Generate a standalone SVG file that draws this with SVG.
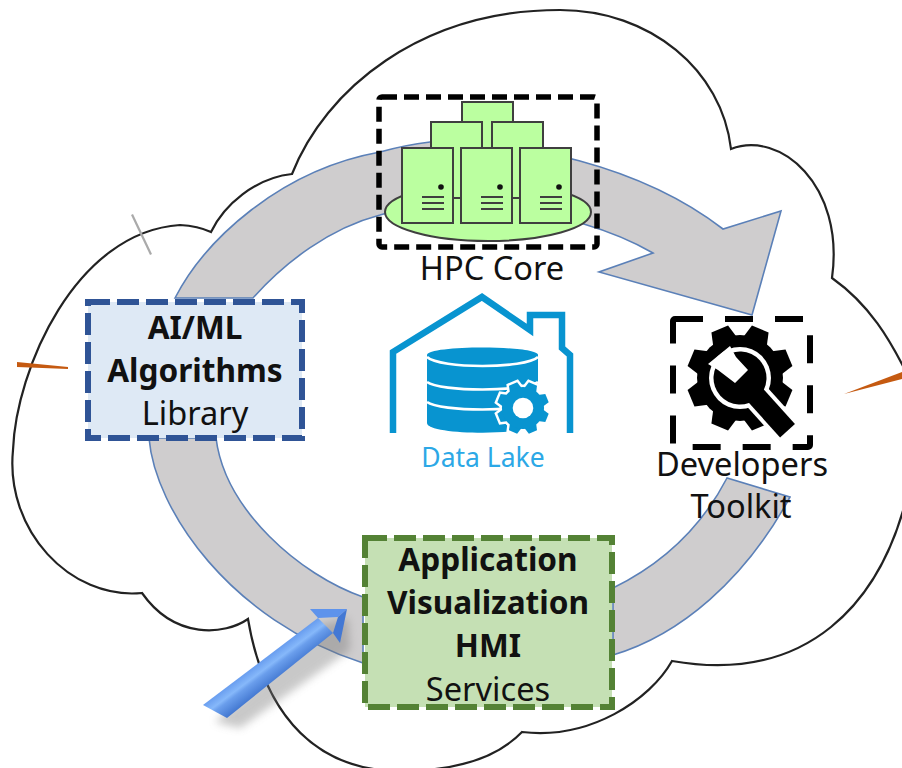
<svg xmlns="http://www.w3.org/2000/svg" width="902" height="768" viewBox="0 0 902 768">
<style>
text{font-family:"Noto Sans","Open Sans","DejaVu Sans",sans-serif;fill:#111;text-anchor:middle}
.b{font-weight:700;font-size:31.6px}
.r{font-size:32.6px}
.ring{fill:#CFCDCE;stroke:#5B80B8;stroke-width:1.6;stroke-linejoin:miter}
.srv{fill:#BBFFA0;stroke:#3f3f3f;stroke-width:2}
.ln{stroke:#3f3f3f;stroke-width:2.2}
.cloud{fill:none;stroke:#222;stroke-width:2.2}
</style>
<defs>
<g id="teeth">
<polygon points="-13,-38 -9,-53 9,-53 13,-38" transform="rotate(22.5)"/>
<polygon points="-13,-38 -9,-53 9,-53 13,-38" transform="rotate(67.5)"/>
<polygon points="-13,-38 -9,-53 9,-53 13,-38" transform="rotate(112.5)"/>
<polygon points="-13,-38 -9,-53 9,-53 13,-38" transform="rotate(157.5)"/>
<polygon points="-13,-38 -9,-53 9,-53 13,-38" transform="rotate(202.5)"/>
<polygon points="-13,-38 -9,-53 9,-53 13,-38" transform="rotate(247.5)"/>
<polygon points="-13,-38 -9,-53 9,-53 13,-38" transform="rotate(292.5)"/>
<polygon points="-13,-38 -9,-53 9,-53 13,-38" transform="rotate(337.5)"/>
<circle r="43"/>
</g>
<g id="server">
<rect class="srv" width="51" height="75"/>
<circle cx="39" cy="39" r="2.8" fill="#111"/>
<path class="ln" d="M20,49H42M20,55H42M20,61H42"/>
</g>
<linearGradient id="shaft" gradientUnits="userSpaceOnUse" x1="261" y1="656" x2="279" y2="680">
<stop offset="0" stop-color="#5A90EA"/><stop offset=".42" stop-color="#86B8FA"/><stop offset=".55" stop-color="#6A9EEC"/><stop offset="1" stop-color="#3F74CE"/>
</linearGradient>
<filter id="soft" x="-30%" y="-30%" width="160%" height="160%"><feGaussianBlur stdDeviation="4"/></filter>
</defs>
<rect width="902" height="768" fill="#fff"/>

<g id="cloud">
<path class="cloud" d="M211,232C224,205 255,178 292,174C325,90 420,10 560,10C650,10 722,70 731,149C780,130 845,185 832,278C870,305 890,340 906,372L906,500C880,600 810,685 672,661C650,700 590,740 522,732C490,765 440,771 400,771C320,771 265,720 248,619C225,635 175,640 142,593C70,600 5,530 13,450C16,370 75,232 180,225Q198,226 211,232Z"/>
<polygon points="131,215 133,214 152,254 150,255" fill="#aaa"/>
<polygon points="17,362 68,367 68,369 17,367" fill="#C55A11"/>
<polygon points="844,394 902,372 902,379" fill="#C55A11"/>
</g>

<g id="connectors">
<path class="ring" d="M175,298C205,240 280,170 380,152Q405,145 430,142C520,140 640,165 723,229L781,211L752,315L599,272L653,253C570,205 440,195 380,215C330,228 285,262 253,298Z"/>
<path class="ring" d="M149,438C155,510 230,620 363,663L363,597C300,575 225,510 216,438Z"/>
<path class="ring" d="M613,655C680,635 745,580 790,497L727,478C700,530 660,565 613,588Z"/>
<g id="blue-arrow">
<polygon points="215,722 240,728 350,650 348,618 320,625" fill="#777" opacity=".4" filter="url(#soft)"/>
<polygon points="203,705 227,718 333,633 318,618" fill="url(#shaft)"/>
<polygon points="310,609 347,609 338,617 318,618" fill="#5E93EC"/>
<polygon points="347,609 338,617 333,633 340,643" fill="#4378D4"/>
</g>
</g>

<g id="hpc-core">
<ellipse cx="488" cy="212" rx="103" ry="29" fill="#BBFFA0" stroke="#3f3f3f" stroke-width="2"/>
<rect class="srv" x="462" y="102" width="51" height="96"/>
<rect class="srv" x="431" y="122" width="51" height="76"/>
<rect class="srv" x="492" y="122" width="51" height="76"/>
<use href="#server" x="402" y="148"/>
<use href="#server" x="461" y="148"/>
<use href="#server" x="520" y="148"/>
<rect x="379" y="97" width="218" height="150" rx="3" fill="none" stroke="#000" stroke-width="5.5" stroke-dasharray="15 7"/>
<text class="r" x="492" y="280">HPC Core</text>
</g>

<g id="data-lake">
<path d="M393,433V352L482,297L530,330V315H562V348L570,355V433" fill="none" stroke="#0894D0" stroke-width="6.5"/>
<path d="M427,355C427,345 538,345 538,355V423C538,436 427,436 427,423Z" fill="#0894D0"/>
<path d="M427,357C440,369 525,369 538,357M427,382C440,392 525,392 538,382M427,402C440,412 525,412 538,402" fill="none" stroke="#fff" stroke-width="2.6"/>
<g transform="translate(523,408) scale(.49)">
<use href="#teeth" fill="#0894D0" stroke="#fff" stroke-width="10"/>
<use href="#teeth" fill="#0894D0"/>
<circle r="21" fill="#fff"/>
</g>
<text x="483" y="467" font-size="26.5" style="fill:#2CA8E6">Data Lake</text>
</g>

<g id="developers-toolkit">
<rect x="673" y="319" width="137" height="128" rx="2" fill="none" stroke="#000" stroke-width="6" stroke-dasharray="28 22"/>
<g transform="translate(740,378)">
<use href="#teeth" fill="#000"/>
<circle r="31" fill="#fff"/>
<g transform="rotate(48)">
<rect x="0" y="-14" width="80" height="28" fill="#fff"/>
<circle r="26.5" fill="#000"/>
<rect x="0" y="-10" width="71" height="20" fill="#000"/>
</g>
<polygon points="-22,-8 -5,5 8,-8 -4,-21 -10,-32 -32,-14" fill="#fff"/>
</g>
<text class="r" x="742" y="476">Developers</text>
<text class="r" x="741" y="518">Toolkit</text>
</g>

<g id="ai-ml">
<rect x="88" y="302" width="214" height="136" fill="#DEE9F5" stroke="#2F5496" stroke-width="6" stroke-dasharray="22 7"/>
<text class="b" x="195" y="339">AI/ML</text>
<text class="b" x="195" y="382">Algorithms</text>
<text class="r" x="195" y="425">Library</text>
</g>

<g id="application">
<rect x="365" y="538" width="247" height="169" fill="#C5E0B4" stroke="#548235" stroke-width="6" stroke-dasharray="22 7"/>
<text class="b" x="488" y="571">Application</text>
<text class="b" x="488" y="614">Visualization</text>
<text class="b" x="488" y="657">HMI</text>
<text class="r" x="488" y="701">Services</text>
</g>
</svg>
